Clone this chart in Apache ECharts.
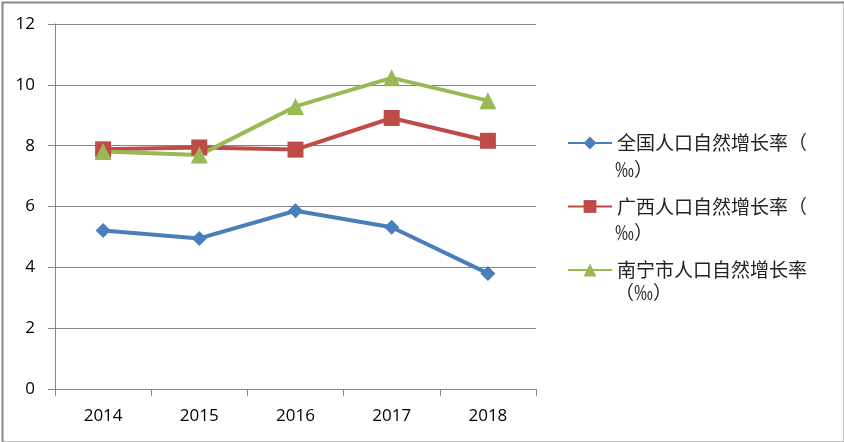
<!DOCTYPE html>
<html><head><meta charset="utf-8">
<script src="https://cdn.jsdelivr.net/npm/echarts@6/dist/echarts.min.js"></script>
<style>html,body{margin:0;padding:0;background:#fff}#c{width:844px;height:442px}</style>
</head><body><div id="c"></div>
<script>
const categories = ['2014','2015','2016','2017','2018'];
const seriesNames = ['全国人口自然增长率（‰）','广西人口自然增长率（‰）','南宁市人口自然增长率（‰）'];
const legendFirstLines = ['全国人口自然增长率（','广西人口自然增长率（','南宁市人口自然增长率'];
const legendSecondLines = ['‰）','‰）','（‰）'];
const national = [5.21, 4.95, 5.86, 5.32, 3.80];
const guangxi = [7.88, 7.94, 7.87, 8.91, 8.16];
const nanning = [7.81, 7.69, 9.29, 10.23, 9.48];
const yTicks = [0, 2, 4, 6, 8, 10, 12];

const colors = ['#4A7EBB', '#BE4B48', '#98B954'];
const symbols = ['diamond', 'rect', 'triangle'];
const sizes = [15, 16, 17];
const values = [national, guangxi, nanning];

const chart = echarts.init(document.getElementById('c'), null, {renderer: 'canvas'});
const axisFont = {fontFamily: 'Open Sans', fontSize: 17, color: '#000'};
const nameMap = {};
seriesNames.forEach((n, i) => nameMap[n] = legendFirstLines[i]);

chart.setOption({
  animation: false,
  backgroundColor: '#fff',
  grid: {left: 55, right: 308, top: 24, bottom: 53, containLabel: false},
  xAxis: {
    type: 'category', data: categories, boundaryGap: true,
    axisLine: {lineStyle: {color: '#868686', width: 1}},
    axisTick: {show: true, length: 7, alignWithLabel: false, lineStyle: {color: '#868686'}},
    axisLabel: Object.assign({margin: 19}, axisFont),
    splitLine: {show: false}
  },
  yAxis: {
    type: 'value', min: yTicks[0], max: yTicks[yTicks.length - 1], interval: 2,
    axisLine: {show: true, lineStyle: {color: '#868686', width: 1}},
    axisTick: {show: true, length: 7, lineStyle: {color: '#868686'}},
    axisLabel: Object.assign({margin: 20}, axisFont),
    splitLine: {show: true, lineStyle: {color: '#868686', width: 1}}
  },
  legend: {
    orient: 'vertical', left: 567, top: 133, padding: 0,
    itemWidth: 44, itemHeight: 16, itemGap: 43.5,
    formatter: n => nameMap[n],
    textStyle: {fontFamily: 'Noto Sans CJK SC', fontSize: 19, color: '#222', lineHeight: 20, padding: [0,0,0,0]},
    data: seriesNames
  },
  graphic: [
    {type: 'rect', left: 0, top: 0, shape: {x: 1, y: 1, width: 842, height: 440}, style: {fill: 'none', stroke: '#888', lineWidth: 2}, silent: true},
    ...legendSecondLines.map((t, i) => ({
      type: 'text', left: 615, top: [160, 223, 283][i],
      style: {text: t, fontFamily: 'Noto Sans CJK SC', fontSize: 19, fill: '#222'}
    }))
  ],
  series: seriesNames.map((n, i) => ({
    name: n, type: 'line', data: values[i],
    symbol: symbols[i], symbolSize: sizes[i],
    lineStyle: {color: colors[i], width: 4},
    itemStyle: {color: colors[i]},
    showSymbol: true
  }))
});
</script></body></html>
